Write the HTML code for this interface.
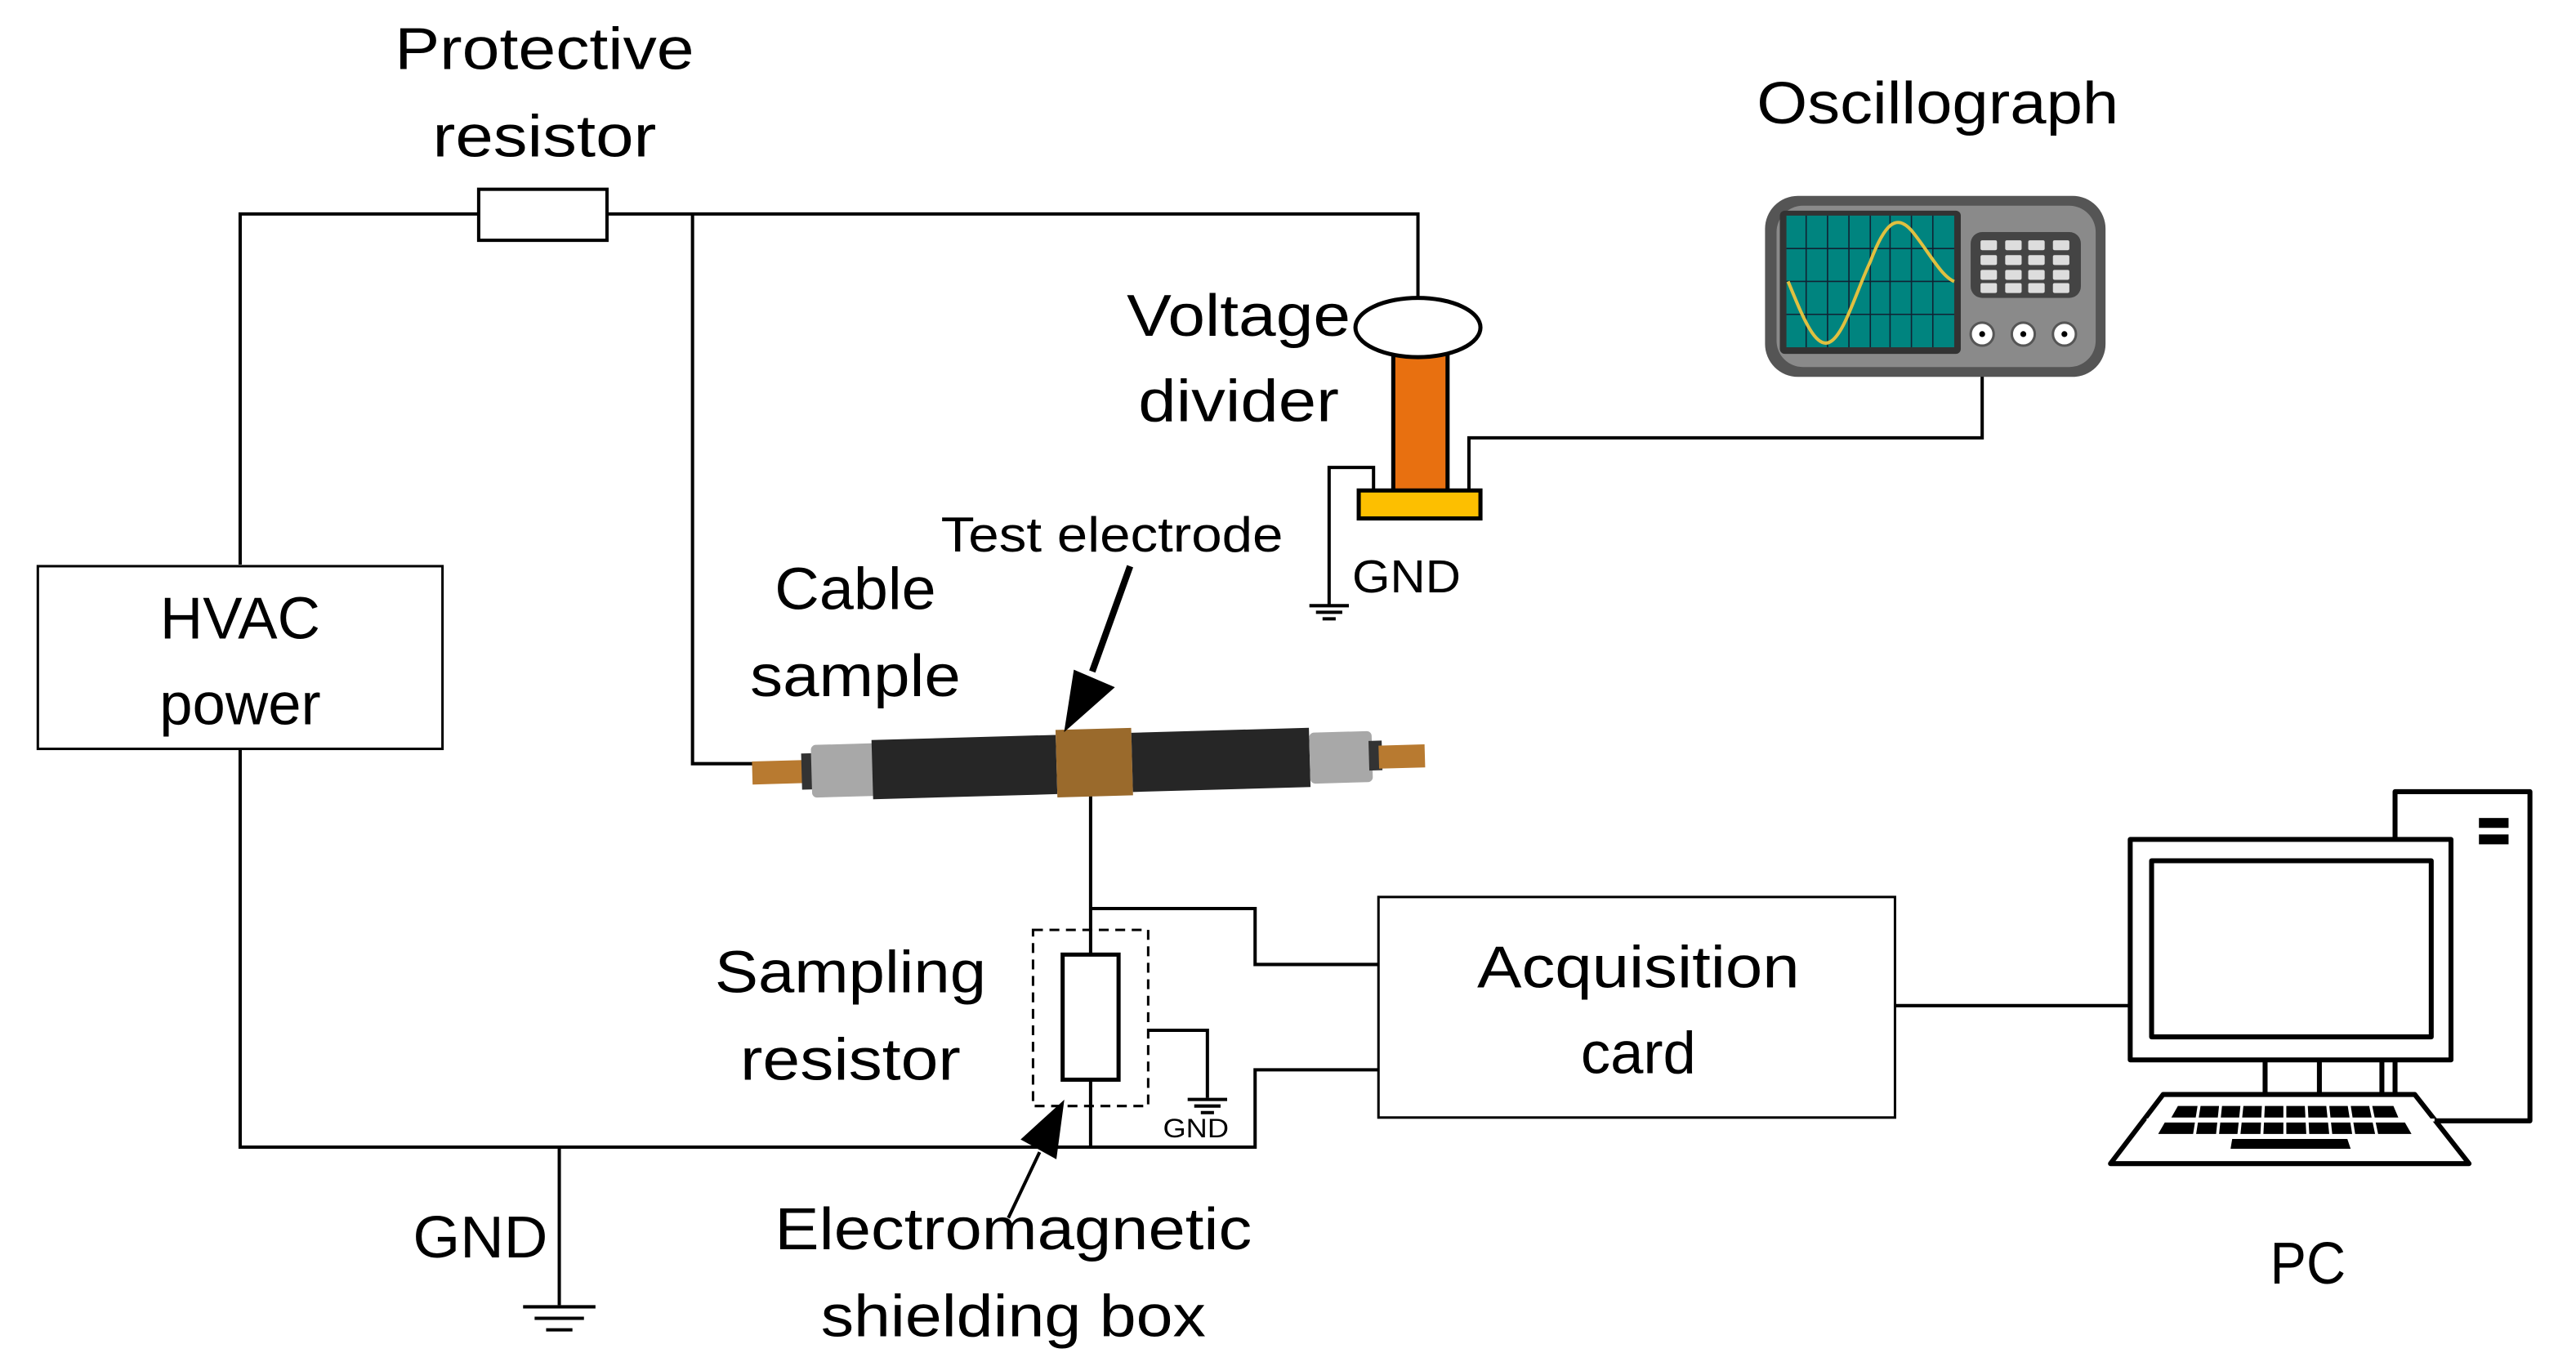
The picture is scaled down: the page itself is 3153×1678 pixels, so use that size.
<!DOCTYPE html>
<html><head><meta charset="utf-8"><style>
html,body{margin:0;padding:0;background:#fff;}
svg{display:block;}
text{font-family:"Liberation Sans",sans-serif;fill:#000;}
</style></head><body>
<svg width="3153" height="1678" viewBox="0 0 1566 833" preserveAspectRatio="none" xmlns="http://www.w3.org/2000/svg">
<g fill="none" stroke="#000" stroke-width="2">
<polyline points="146,343 146,130 291,130"/>
<polyline points="369,130 862,130 862,182"/>
<polyline points="421,130 421,464 458,464"/>
<polyline points="146,455 146,697 763,697 763,650 838,650"/>
<polyline points="340,697 340,793"/>
<polyline points="663,476 663,580"/>
<polyline points="663,655 663,697"/>
<polyline points="663,552 763,552 763,586 838,586"/>
<polyline points="698,626 734,626 734,667"/>
<polyline points="1152,611 1295,611"/>
<polyline points="835,300 835,284 808,284 808,368"/>
<polyline points="893,300 893,266 1205,266 1205,205"/>
</g>
<rect x="291" y="115" width="78" height="31" fill="#fff" stroke="#000" stroke-width="2"/>
<rect x="23" y="344" width="246" height="111" fill="#fff" stroke="#000" stroke-width="1.5"/>
<text x="146" y="388" font-size="36" text-anchor="middle">HVAC</text>
<text x="146" y="440" font-size="36" text-anchor="middle">power</text>
<rect x="838" y="545" width="314" height="134" fill="#fff" stroke="#000" stroke-width="1.5"/>
<text x="996" y="600" font-size="36" text-anchor="middle" textLength="196" lengthAdjust="spacingAndGlyphs">Acquisition</text>
<text x="996" y="652" font-size="36" text-anchor="middle">card</text>
<g stroke="#000" stroke-width="2">
<line x1="318" y1="794" x2="362" y2="794"/><line x1="325" y1="801" x2="355" y2="801"/><line x1="332" y1="808" x2="348" y2="808"/>
<line x1="796" y1="368" x2="820" y2="368"/><line x1="800" y1="372" x2="816" y2="372"/><line x1="804" y1="376" x2="812" y2="376"/>
<line x1="722" y1="668" x2="746" y2="668"/><line x1="726" y1="672" x2="742" y2="672"/><line x1="730" y1="676" x2="738" y2="676"/>
</g>
<rect x="628" y="565" width="70" height="107" fill="none" stroke="#000" stroke-width="1.5" stroke-dasharray="6,4"/>
<rect x="646" y="580" width="34" height="76" fill="#fff" stroke="#000" stroke-width="2.5"/>
<g transform="rotate(-1.6 660 455)">
<rect x="457" y="457" width="38" height="14" fill="#b87a30"/>
<rect x="487" y="453" width="12" height="22" fill="#333"/>
<rect x="493" y="448" width="46" height="32" fill="#a8a8a8" rx="3"/>
<rect x="530" y="446" width="112" height="36" fill="#262626"/>
<rect x="642" y="443" width="46" height="41" fill="#9a6a2c"/>
<rect x="688" y="446" width="108" height="36" fill="#262626"/>
<rect x="796" y="449" width="38" height="31" fill="#a8a8a8" rx="3"/>
<rect x="832" y="455" width="8" height="18" fill="#333"/>
<rect x="838" y="458" width="28" height="14" fill="#b87a30"/>
</g>
<line x1="687" y1="344" x2="664" y2="408" stroke="#000" stroke-width="4"/>
<polygon points="649,441 654,409 675,418" fill="#000" stroke="#000" stroke-width="3"/>
<line x1="613" y1="740" x2="632" y2="700" stroke="#000" stroke-width="2"/>
<polygon points="645,672 623,692 641,702" fill="#000" stroke="#000" stroke-width="3"/>
<rect x="847" y="210" width="33" height="91" fill="#e87010" stroke="#000" stroke-width="2.5"/>
<ellipse cx="862" cy="199" rx="38" ry="18" fill="#fff" stroke="#000" stroke-width="2.5"/>
<rect x="826" y="298" width="74" height="17" fill="#fdbf00" stroke="#000" stroke-width="2.5"/>
<rect x="1073" y="119" width="207" height="110" rx="20" fill="#555"/>
<rect x="1080" y="125" width="194" height="98" rx="16" fill="#8a8a8a"/>
<rect x="1082" y="128" width="110" height="87" rx="3" fill="#333"/>
<rect x="1086" y="131" width="102" height="80" fill="#00847f"/>
<g stroke="#123" stroke-width="0.8">
<line x1="1086" y1="151" x2="1188" y2="151"/><line x1="1086" y1="171" x2="1188" y2="171"/><line x1="1086" y1="191" x2="1188" y2="191"/>
<line x1="1111" y1="131" x2="1111" y2="211"/><line x1="1137" y1="131" x2="1137" y2="211"/><line x1="1162" y1="131" x2="1162" y2="211"/>
<line x1="1098" y1="131" x2="1098" y2="211"/><line x1="1124" y1="131" x2="1124" y2="211"/><line x1="1149" y1="131" x2="1149" y2="211"/><line x1="1175" y1="131" x2="1175" y2="211"/>
</g>
<path d="M1087,171 C1095,190 1103,212 1112,208 C1121,204 1128,178 1137,159 C1146,135 1153,130 1162,140 C1172,152 1180,168 1188,171" fill="none" stroke="#e0c040" stroke-width="2"/>
<rect x="1198" y="141" width="67" height="40" rx="7" fill="#444"/>
<g fill="#ddd">
<rect x="1204" y="146" width="10" height="6" rx="1"/><rect x="1219" y="146" width="10" height="6" rx="1"/><rect x="1233" y="146" width="10" height="6" rx="1"/><rect x="1248" y="146" width="10" height="6" rx="1"/>
<rect x="1204" y="155" width="10" height="6" rx="1"/><rect x="1219" y="155" width="10" height="6" rx="1"/><rect x="1233" y="155" width="10" height="6" rx="1"/><rect x="1248" y="155" width="10" height="6" rx="1"/>
<rect x="1204" y="164" width="10" height="6" rx="1"/><rect x="1219" y="164" width="10" height="6" rx="1"/><rect x="1233" y="164" width="10" height="6" rx="1"/><rect x="1248" y="164" width="10" height="6" rx="1"/>
<rect x="1204" y="172" width="10" height="6" rx="1"/><rect x="1219" y="172" width="10" height="6" rx="1"/><rect x="1233" y="172" width="10" height="6" rx="1"/><rect x="1248" y="172" width="10" height="6" rx="1"/>
</g>
<g fill="#fff" stroke="#555" stroke-width="1.5">
<circle cx="1205" cy="203" r="7"/><circle cx="1230" cy="203" r="7"/><circle cx="1255" cy="203" r="7"/>
</g>
<circle cx="1205" cy="203" r="1.8" fill="#000"/><circle cx="1230" cy="203" r="1.8" fill="#000"/><circle cx="1255" cy="203" r="1.8" fill="#000"/>
<g fill="#fff" stroke="#000" stroke-width="3" stroke-linejoin="round">
<rect x="1456" y="481" width="82" height="200"/>
<rect x="1295" y="510" width="195" height="134"/>
<rect x="1308" y="523" width="170" height="107"/>
<polygon points="1315,665 1468,665 1501,707 1283,707"/>
</g>
<g stroke="#000" stroke-width="3">
<line x1="1377" y1="644" x2="1377" y2="665"/><line x1="1410" y1="644" x2="1410" y2="665"/><line x1="1448" y1="644" x2="1448" y2="665"/>
</g>
<rect x="1507" y="497" width="18" height="6" fill="#000"/><rect x="1507" y="507" width="18" height="6" fill="#000"/>
<g fill="#000">
<polygon points="1324,672 1455,672 1458,679 1320,679"/>
<polygon points="1316,682 1462,682 1466,689 1312,689"/>
<polygon points="1357,692 1427,692 1429,698 1356,698"/>
</g>
<g stroke="#fff" stroke-width="1.8">
<line x1="1337" y1="671" x2="1334" y2="690"/><line x1="1350" y1="671" x2="1348" y2="690"/><line x1="1363" y1="671" x2="1361" y2="690"/><line x1="1376" y1="671" x2="1375" y2="690"/><line x1="1389" y1="671" x2="1389" y2="690"/><line x1="1402" y1="671" x2="1403" y2="690"/><line x1="1415" y1="671" x2="1417" y2="690"/><line x1="1428" y1="671" x2="1431" y2="690"/><line x1="1441" y1="671" x2="1445" y2="690"/>
<line x1="1305" y1="680.5" x2="1480" y2="680.5"/>
</g>
<text x="331" y="42" font-size="36" text-anchor="middle" textLength="182" lengthAdjust="spacingAndGlyphs">Protective</text>
<text x="331" y="95" font-size="36" text-anchor="middle" textLength="136" lengthAdjust="spacingAndGlyphs">resistor</text>
<text x="1178" y="75" font-size="36" text-anchor="middle" textLength="220" lengthAdjust="spacingAndGlyphs">Oscillograph</text>
<text x="753" y="204" font-size="36" text-anchor="middle" textLength="136" lengthAdjust="spacingAndGlyphs">Voltage</text>
<text x="753" y="256" font-size="36" text-anchor="middle" textLength="122" lengthAdjust="spacingAndGlyphs">divider</text>
<text x="676" y="335" font-size="30" text-anchor="middle" textLength="208" lengthAdjust="spacingAndGlyphs">Test electrode</text>
<text x="520" y="370" font-size="36" text-anchor="middle" textLength="98" lengthAdjust="spacingAndGlyphs">Cable</text>
<text x="520" y="423" font-size="36" text-anchor="middle" textLength="128" lengthAdjust="spacingAndGlyphs">sample</text>
<text x="855" y="360" font-size="28" text-anchor="middle" textLength="66" lengthAdjust="spacingAndGlyphs">GND</text>
<text x="517" y="603" font-size="36" text-anchor="middle" textLength="165" lengthAdjust="spacingAndGlyphs">Sampling</text>
<text x="517" y="656" font-size="36" text-anchor="middle" textLength="134" lengthAdjust="spacingAndGlyphs">resistor</text>
<text x="727" y="691" font-size="16" text-anchor="middle" textLength="40" lengthAdjust="spacingAndGlyphs">GND</text>
<text x="292" y="764" font-size="36" text-anchor="middle" textLength="82" lengthAdjust="spacingAndGlyphs">GND</text>
<text x="616" y="759" font-size="36" text-anchor="middle" textLength="290" lengthAdjust="spacingAndGlyphs">Electromagnetic</text>
<text x="616" y="812" font-size="36" text-anchor="middle" textLength="234" lengthAdjust="spacingAndGlyphs">shielding box</text>
<text x="1403" y="780" font-size="36" text-anchor="middle" textLength="46" lengthAdjust="spacingAndGlyphs">PC</text>
</svg>
</body></html>
